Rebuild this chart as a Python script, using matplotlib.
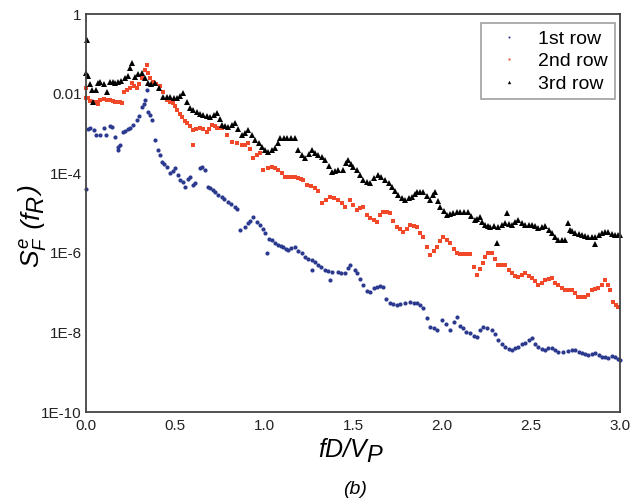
import numpy as np
import matplotlib
matplotlib.use("Agg")
import matplotlib.pyplot as plt
from matplotlib.transforms import IdentityTransform

plt.rcParams['font.family'] = ['Liberation Sans', 'DejaVu Sans']
plt.rcParams['mathtext.fontset'] = 'custom'
plt.rcParams['mathtext.it'] = 'Liberation Sans:italic'
plt.rcParams['mathtext.rm'] = 'Liberation Sans'

# spectra, y stored as log10(S); second block of each list = in-between reads
x_row1 = [0.000, 0.022, 0.079, 0.135, 0.163, 0.180, 0.180, 0.208, 0.247, 0.287,
          0.315, 0.331, 0.343, 0.348, 0.371, 0.388, 0.404, 0.427, 0.455, 0.472,
          0.500, 0.528, 0.556, 0.584, 0.612, 0.640, 0.669, 0.685, 0.713, 0.742,
          0.764, 0.798, 0.837, 0.865, 0.910, 0.938, 0.978, 1.006, 1.017, 1.045,
          1.079, 1.107, 1.135, 1.174, 1.213, 1.230, 1.270, 1.270, 1.303, 1.343,
          1.371, 1.382, 1.416, 1.455, 1.483, 1.511, 1.522, 1.556, 1.596, 1.635,
          1.669, 1.708, 1.764, 1.820, 1.860, 1.893, 1.933, 1.972, 2.000, 2.045,
          2.084, 2.118, 2.157, 2.197, 2.230, 2.281, 2.315, 2.354, 2.393, 2.427,
          2.466, 2.506, 2.539, 2.579, 2.618, 2.652, 2.708, 2.747, 2.787, 2.820,
          2.860, 2.899, 2.933, 2.972, 3.000,
          0.011, 0.045, 0.056, 0.101, 0.112, 0.146, 0.191, 0.219, 0.236, 0.264,
          0.298, 0.326, 0.360, 0.416, 0.438, 0.489, 0.517, 0.545, 0.573, 0.601,
          0.652, 0.697, 0.725, 0.775, 0.815, 0.848, 0.893, 0.921, 0.961, 0.994,
          1.028, 1.062, 1.093, 1.121, 1.152, 1.191, 1.247, 1.287, 1.320, 1.360,
          1.432, 1.472, 1.539, 1.579, 1.618, 1.652, 1.685, 1.725, 1.745, 1.792,
          1.841, 1.876, 1.916, 1.955, 2.022, 2.065, 2.101, 2.135, 2.180, 2.213,
          2.253, 2.298, 2.337, 2.376, 2.410, 2.449, 2.489, 2.522, 2.562, 2.596,
          2.635, 2.680, 2.730, 2.770, 2.803, 2.843, 2.882, 2.916, 2.955, 2.989]
log_row1 = [-4.40, -2.86, -3.04, -2.81, -3.09, -3.34, -3.42, -2.96, -2.86, -2.66,
            -2.34, -2.16, -1.91, -2.46, -2.66, -3.17, -3.42, -3.72, -3.84, -4.00,
            -3.87, -4.17, -4.35, -4.10, -4.25, -3.87, -3.92, -4.35, -4.42, -4.55,
            -4.60, -4.72, -4.85, -5.43, -5.25, -5.10, -5.30, -5.50, -6.01, -5.68,
            -5.80, -5.85, -5.93, -5.85, -6.01, -6.11, -6.18, -6.43, -6.31, -6.43,
            -6.68, -6.48, -6.48, -6.51, -6.31, -6.43, -6.51, -6.81, -6.98, -6.86,
            -6.86, -7.26, -7.29, -7.24, -7.26, -7.39, -7.86, -7.94, -7.69, -7.94,
            -7.61, -7.89, -8.02, -8.12, -7.86, -7.94, -8.19, -8.37, -8.44, -8.37,
            -8.27, -8.14, -8.37, -8.44, -8.39, -8.49, -8.47, -8.44, -8.52, -8.57,
            -8.52, -8.62, -8.64, -8.62, -8.69,
            -2.88, -2.91, -3.05, -2.87, -3.03, -2.83, -3.28, -2.95, -2.88, -2.80,
            -2.57, -2.25, -2.55, -3.55, -3.78, -3.95, -4.05, -4.22, -4.15, -4.30,
            -3.85, -4.38, -4.48, -4.65, -4.78, -4.90, -5.35, -5.20, -5.22, -5.40,
            -5.65, -5.75, -5.82, -5.90, -5.88, -5.95, -6.15, -6.22, -6.35, -6.45,
            -6.50, -6.38, -6.65, -6.95, -6.88, -6.84, -7.15, -7.28, -7.30, -7.25,
            -7.27, -7.32, -7.65, -7.90, -7.80, -7.75, -7.85, -7.98, -8.08, -7.95,
            -7.88, -8.05, -8.30, -8.42, -8.40, -8.30, -8.20, -8.28, -8.42, -8.40,
            -8.45, -8.48, -8.45, -8.48, -8.55, -8.55, -8.58, -8.62, -8.60, -8.66]

x_row2 = [0.000, 0.000, 0.039, 0.079, 0.135, 0.174, 0.202, 0.230, 0.247, 0.258,
          0.287, 0.315, 0.343, 0.348, 0.376, 0.416, 0.455, 0.489, 0.511, 0.539,
          0.567, 0.601, 0.601, 0.640, 0.680, 0.708, 0.736, 0.764, 0.820, 0.876,
          0.910, 0.938, 0.978, 0.994, 1.045, 1.079, 1.118, 1.157, 1.191, 1.219,
          1.242, 1.287, 1.326, 1.371, 1.416, 1.455, 1.483, 1.522, 1.556, 1.596,
          1.635, 1.669, 1.708, 1.747, 1.781, 1.820, 1.860, 1.893, 1.933, 1.972,
          2.006, 2.045, 2.084, 2.118, 2.157, 2.197, 2.230, 2.258, 2.281, 2.315,
          2.354, 2.393, 2.427, 2.466, 2.506, 2.539, 2.579, 2.618, 2.652, 2.691,
          2.730, 2.764, 2.803, 2.843, 2.876, 2.916, 2.944, 2.961, 2.989,
          0.011, 0.022, 0.056, 0.067, 0.101, 0.118, 0.152, 0.163, 0.191, 0.213,
          0.270, 0.298, 0.331, 0.360, 0.393, 0.433, 0.472, 0.500, 0.528, 0.556,
          0.584, 0.618, 0.657, 0.691, 0.725, 0.753, 0.792, 0.848, 0.893, 0.921,
          0.961, 1.022, 1.062, 1.101, 1.140, 1.174, 1.208, 1.264, 1.303, 1.348,
          1.393, 1.438, 1.500, 1.539, 1.579, 1.618, 1.652, 1.691, 1.725, 1.764,
          1.803, 1.843, 1.876, 1.916, 1.955, 1.989, 2.028, 2.065, 2.101, 2.140,
          2.180, 2.213, 2.242, 2.298, 2.337, 2.376, 2.410, 2.449, 2.489, 2.522,
          2.562, 2.601, 2.635, 2.674, 2.713, 2.747, 2.787, 2.820, 2.860, 2.899,
          2.933, 2.975]
log_row2 = [-2.11, -1.86, -2.21, -2.16, -2.16, -2.21, -2.24, -1.91, -1.86, -1.73,
            -1.86, -1.61, -1.28, -1.48, -1.71, -1.81, -2.16, -2.24, -2.41, -2.59,
            -2.74, -2.91, -3.29, -2.86, -2.96, -2.79, -2.86, -2.86, -3.22, -3.29,
            -3.24, -3.62, -3.49, -3.92, -3.84, -3.92, -4.10, -4.10, -4.12, -4.17,
            -4.30, -4.37, -4.75, -4.60, -4.67, -4.85, -4.67, -4.92, -4.85, -5.13,
            -5.23, -4.97, -5.00, -5.35, -5.48, -5.30, -5.35, -5.60, -6.06, -5.85,
            -5.60, -5.75, -6.01, -6.03, -6.03, -6.56, -6.26, -6.01, -6.01, -6.31,
            -6.31, -6.51, -6.61, -6.51, -6.63, -6.81, -6.68, -6.63, -6.81, -6.93,
            -6.93, -7.11, -7.11, -6.93, -6.88, -6.68, -6.93, -7.24, -7.36,
            -2.10, -2.18, -2.20, -2.25, -2.14, -2.17, -2.18, -2.20, -2.22, -1.95,
            -1.80, -1.75, -1.40, -1.60, -1.75, -1.95, -2.20, -2.30, -2.52, -2.68,
            -2.82, -2.88, -2.90, -2.88, -2.82, -2.86, -3.05, -3.25, -3.28, -3.40,
            -3.55, -3.88, -3.88, -4.00, -4.10, -4.10, -4.15, -4.33, -4.45, -4.68,
            -4.62, -4.75, -4.80, -4.88, -5.05, -5.18, -5.05, -4.98, -5.20, -5.40,
            -5.40, -5.32, -5.50, -5.85, -5.95, -5.70, -5.68, -5.90, -6.02, -6.03,
            -6.35, -6.40, -6.10, -6.15, -6.31, -6.42, -6.58, -6.55, -6.58, -6.72,
            -6.75, -6.65, -6.75, -6.88, -6.93, -7.02, -7.11, -7.05, -6.90, -6.80,
            -6.80, -7.30]

x_row3 = [0.006, 0.000, 0.034, 0.039, 0.079, 0.118, 0.135, 0.180, 0.219, 0.258,
          0.275, 0.315, 0.348, 0.388, 0.433, 0.472, 0.511, 0.545, 0.584, 0.624,
          0.657, 0.697, 0.736, 0.764, 0.798, 0.837, 0.876, 0.910, 0.949, 0.989,
          1.022, 1.062, 1.090, 1.129, 1.174, 1.191, 1.230, 1.270, 1.303, 1.343,
          1.382, 1.416, 1.444, 1.472, 1.500, 1.522, 1.556, 1.596, 1.640, 1.680,
          1.719, 1.753, 1.792, 1.831, 1.860, 1.893, 1.933, 1.961, 1.989, 2.028,
          2.062, 2.101, 2.146, 2.185, 2.213, 2.242, 2.270, 2.309, 2.315, 2.354,
          2.365, 2.393, 2.427, 2.466, 2.506, 2.539, 2.579, 2.618, 2.652, 2.691,
          2.708, 2.719, 2.747, 2.787, 2.820, 2.860, 2.860, 2.899, 2.933, 2.972,
          3.000,
          0.011, 0.022, 0.056, 0.067, 0.101, 0.152, 0.163, 0.197, 0.236, 0.247,
          0.292, 0.331, 0.365, 0.410, 0.455, 0.494, 0.528, 0.567, 0.601, 0.640,
          0.680, 0.719, 0.753, 0.781, 0.820, 0.854, 0.893, 0.930, 0.972, 1.006,
          1.045, 1.076, 1.110, 1.152, 1.213, 1.253, 1.287, 1.326, 1.365, 1.399,
          1.461, 1.489, 1.539, 1.579, 1.618, 1.657, 1.702, 1.736, 1.775, 1.815,
          1.846, 1.876, 1.916, 1.949, 1.978, 2.011, 2.045, 2.084, 2.124, 2.163,
          2.197, 2.225, 2.258, 2.292, 2.337, 2.376, 2.410, 2.449, 2.489, 2.522,
          2.562, 2.601, 2.635, 2.674, 2.730, 2.770, 2.803, 2.843, 2.882, 2.916,
          2.955, 2.989]
log_row3 = [-0.65, -1.48, -1.91, -2.21, -1.71, -1.96, -1.71, -1.71, -1.61, -1.23,
            -1.58, -1.48, -1.73, -1.73, -2.09, -2.09, -2.11, -1.98, -2.36, -2.46,
            -2.54, -2.59, -2.49, -2.79, -2.84, -2.74, -3.04, -2.91, -3.17, -3.34,
            -3.47, -3.37, -3.12, -3.12, -3.12, -3.42, -3.62, -3.42, -3.54, -3.67,
            -3.97, -3.92, -3.92, -3.67, -3.84, -3.92, -4.17, -4.25, -4.05, -4.17,
            -4.35, -4.55, -4.67, -4.60, -4.47, -4.47, -4.67, -4.47, -4.85, -5.05,
            -5.00, -4.97, -4.97, -5.18, -5.10, -5.30, -5.35, -5.75, -5.35, -5.25,
            -5.00, -5.30, -5.18, -5.30, -5.30, -5.38, -5.33, -5.50, -5.68, -5.68,
            -5.25, -5.43, -5.50, -5.55, -5.60, -5.60, -5.78, -5.50, -5.48, -5.55,
            -5.55,
            -1.55, -1.75, -1.90, -1.73, -1.75, -1.72, -1.73, -1.68, -1.55, -1.35,
            -1.50, -1.60, -1.75, -1.85, -2.08, -2.10, -2.05, -2.20, -2.40, -2.50,
            -2.56, -2.55, -2.65, -2.82, -2.78, -2.90, -2.98, -3.05, -3.25, -3.42,
            -3.42, -3.25, -3.12, -3.12, -3.55, -3.52, -3.48, -3.60, -3.82, -3.95,
            -3.75, -3.78, -4.05, -4.22, -4.12, -4.10, -4.25, -4.45, -4.62, -4.63,
            -4.52, -4.47, -4.57, -4.55, -4.70, -4.95, -5.02, -4.98, -4.97, -5.08,
            -5.15, -5.22, -5.33, -5.32, -5.30, -5.28, -5.22, -5.25, -5.30, -5.33,
            -5.36, -5.42, -5.60, -5.68, -5.45, -5.52, -5.58, -5.60, -5.55, -5.48,
            -5.52, -5.55]

labels = ["1st row", "2nd row", "3rd row"]
y_ticks = [1, 1e-2, 1e-4, 1e-6, 1e-8, 1e-10]
y_ticklabels = ["1", "0.01", "1E-4", "1E-6", "1E-8", "1E-10"]
x_ticks = [0.0, 0.5, 1.0, 1.5, 2.0, 2.5, 3.0]

W, H = 639, 500
fig = plt.figure(figsize=(W / 100, H / 100), dpi=100)
ax = fig.add_axes([86 / W, 1 - 412 / H, 534 / W, 398 / H])

ax.plot(x_row1, 10.0 ** np.array(log_row1), 'o', color='#2b3a8f', ms=3.0, mew=0,
        label=labels[0], clip_on=False)
ax.plot(x_row2, 10.0 ** np.array(log_row2), 's', color='#f2482a', ms=2.8, mew=0,
        label=labels[1], clip_on=False)
ax.plot(x_row3, 10.0 ** np.array(log_row3), '^', color='black', ms=4.8, mew=0,
        label=labels[2], clip_on=False)

ax.set_yscale('log')
ax.set_ylim(1e-10, 1)
ax.set_xlim(0, 3)
ax.set_yticks(y_ticks)
ax.set_yticklabels(y_ticklabels)
ax.minorticks_off()
ax.set_xticks(x_ticks)
ax.set_xticklabels([f"{v:.1f}" for v in x_ticks])
ax.tick_params(length=0, labelsize=11, colors='#222222')
ax.tick_params(axis='y', pad=3)
ax.tick_params(axis='x', pad=5)
for sp in ax.spines.values():
    sp.set_color('#444444')
    sp.set_linewidth(1.3)

leg = ax.legend(loc='upper right', bbox_to_anchor=(0.9906, 0.977), borderaxespad=0,
                fontsize=14, frameon=True, fancybox=False, edgecolor='#888888',
                markerscale=0.5, handlelength=2.2, handletextpad=0.4,
                labelspacing=0.25, borderpad=0.35)
leg.get_frame().set_linewidth(1.2)

# labels built from pieces so the lowered letters keep full size
renderer = fig.canvas.get_renderer()


def chain(x0, y0, pieces, rot=0):
    pos = 0.0
    for txt, size, shift in pieces:
        if rot == 0:
            t = fig.text(x0 + pos, y0 + shift, txt, fontsize=size, style='italic',
                         ha='left', va='baseline', transform=IdentityTransform())
            w = t.get_window_extent(renderer).width
        else:
            t = fig.text(x0 - shift, y0 + pos, txt, fontsize=size, style='italic',
                         rotation=90, rotation_mode='anchor',
                         ha='left', va='baseline', transform=IdentityTransform())
            w = t.get_window_extent(renderer).height
        pos += w


chain(318, H - 457, [("fD/V", 18, 0), ("P", 17, -5)])
chain(40, H - 268, [(r"$S^{e}_{F}$", 19, 0), (" (f", 19, 0), ("R", 17, -3), (")", 19, 0)],
      rot=90)
fig.text(355 / W, 6 / H, "(b)", fontsize=14, style='italic', ha='center', va='baseline')

fig.savefig("out.png", dpi=100)
